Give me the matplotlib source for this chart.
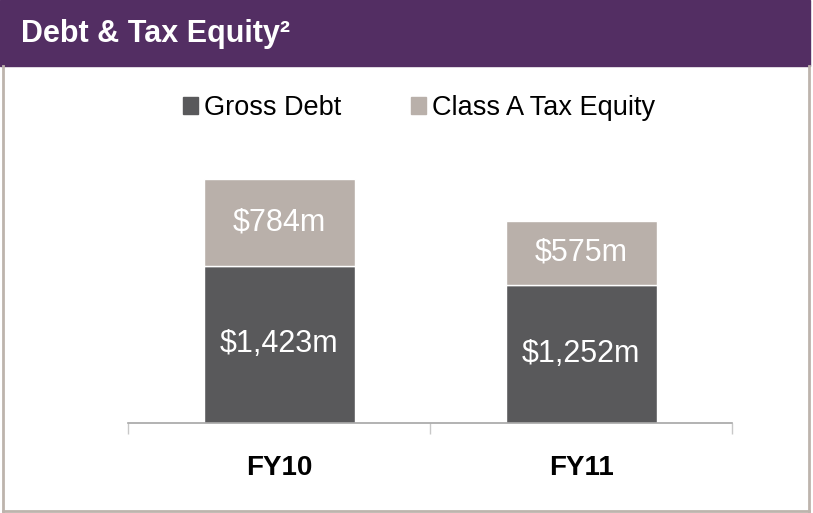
import matplotlib.pyplot as plt
from matplotlib.patches import Patch, Rectangle

# chart values
years = ["FY10", "FY11"]
gross_debt = [1423, 1252]
tax_equity = [784, 575]
series_names = ["Gross Debt", "Class A Tax Equity"]

DEBT_COLOR = "#59595B"
EQUITY_COLOR = "#B9B0AA"
PURPLE = "#532E63"
BORDER = "#BDB4AD"

plt.rcParams['font.family'] = ['Liberation Sans', 'DejaVu Sans']

fig = plt.figure(figsize=(8.13, 5.13), dpi=100)

# header band and outer frame
fig.patches.append(Rectangle((0, 1 - 66 / 513), 810 / 813, 66 / 513,
                             transform=fig.transFigure, color=PURPLE, zorder=0))
fig.add_artist(plt.Line2D([3 / 813, 3 / 813], [2 / 513, 1 - 66 / 513],
                          transform=fig.transFigure, color=BORDER, lw=2))
fig.add_artist(plt.Line2D([809 / 813, 809 / 813], [2 / 513, 1 - 66 / 513],
                          transform=fig.transFigure, color=BORDER, lw=2))
fig.add_artist(plt.Line2D([3 / 813, 809 / 813], [2 / 513, 2 / 513],
                          transform=fig.transFigure, color=BORDER, lw=2))
fig.text(21 / 813, 1 - 34 / 513, "Debt & Tax Equity²", color="white",
         fontsize=22, fontweight="bold", va="center", ha="left")

ax = fig.add_axes([128 / 813, 1 - 423 / 513, 604 / 813, 273 / 513])
x = range(len(years))
ax.bar(x, gross_debt, width=0.5, color=DEBT_COLOR, edgecolor="white", linewidth=1)
ax.bar(x, tax_equity, width=0.5, bottom=gross_debt, color=EQUITY_COLOR,
       edgecolor="white", linewidth=1)

for i in x:
    ax.text(i, gross_debt[i] / 2, f"${gross_debt[i]:,}m", color="white",
            fontsize=22, ha="center", va="center")
    ax.text(i, gross_debt[i] + tax_equity[i] / 2, f"${tax_equity[i]:,}m",
            color="white", fontsize=22, ha="center", va="center")

ax.set_xlim(-0.5, 1.5)
ax.set_ylim(0, 2470)
for s in ["top", "left", "right"]:
    ax.spines[s].set_visible(False)
ax.spines["bottom"].set_color("#A6A6A6")
ax.spines["bottom"].set_linewidth(1.2)
ax.set_yticks([])
ax.set_xticks([-0.5, 0.5, 1.5])
ax.set_xticklabels([])
ax.tick_params(axis="x", length=8, color="#C8C8C8", width=1)
for i, yr in enumerate(years):
    ax.text(i, -0.165, yr, transform=ax.get_xaxis_transform(), ha="center",
            va="center", fontsize=20, fontweight="bold")

handles = [Patch(color=DEBT_COLOR), Patch(color=EQUITY_COLOR)]
fig.legend(handles, series_names, loc="center", ncol=2,
           bbox_to_anchor=(419 / 813, 1 - 108 / 513), frameon=False,
           fontsize=19.5, handlelength=0.55, handleheight=0.55,
           handletextpad=0.22, columnspacing=2.6, borderpad=0)

fig.savefig("out.png", dpi=100)
